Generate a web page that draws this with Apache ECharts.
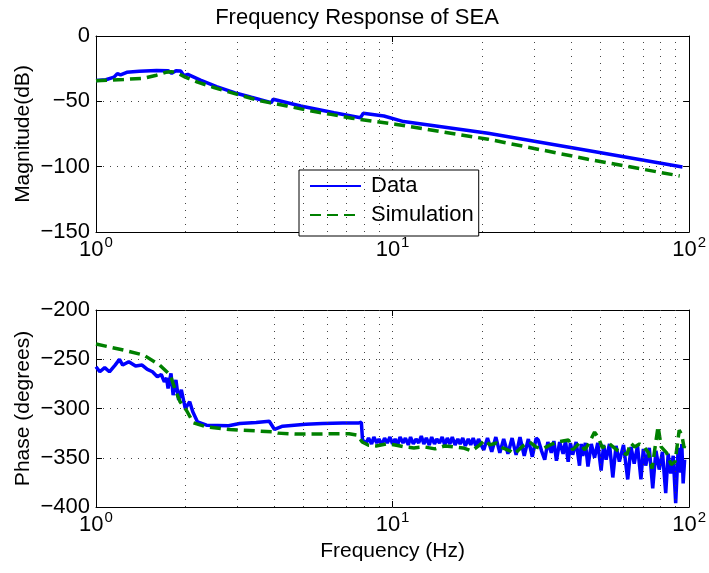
<!DOCTYPE html>
<html>
<head>
<meta charset="utf-8">
<script src="https://cdn.jsdelivr.net/npm/echarts@6/dist/echarts.min.js"></script>
<style>
html, body { margin: 0; padding: 0; background: #fff; }
#chart { width: 709px; height: 573px; }
</style>
</head>
<body>
<div id="chart"></div>
<script>
// Magnitude (dB) of the measured response
const magDataFreq = [1.0, 1.08, 1.15, 1.18, 1.21, 1.27, 1.4, 1.6, 1.75, 1.8, 1.86, 1.93, 1.98, 2.04, 2.25, 2.55, 2.93, 3.34, 3.9, 3.96, 4.9, 6.35, 7.8, 7.96, 9.35, 10.9, 21, 45.6, 95];
const magData = [-34.0, -33.5, -31.5, -28.8, -29.8, -27.8, -27.0, -26.4, -26.5, -28.6, -26.6, -26.8, -30.4, -29.3, -33.7, -38.8, -43.4, -46.9, -51.0, -48.4, -53.6, -58.7, -62.5, -59.2, -61.2, -65.5, -74.5, -87.7, -100.3];

// Magnitude (dB) of the model
const magSimFreq = [1.0, 1.24, 1.45, 1.6, 1.72, 1.8, 1.9, 2.0, 2.2, 2.5, 2.8, 3.13, 3.5, 3.84, 4.4, 5.2, 6.2, 7.3, 8.6, 10.2, 21, 45.6, 93];
const magSim = [-34.3, -33.3, -32.3, -30.0, -27.8, -27.3, -28.8, -31.5, -35.3, -39.4, -42.8, -45.9, -49.0, -51.0, -53.5, -57.0, -60.0, -62.9, -65.2, -67.5, -79.0, -94.3, -107.1];

// Phase (degrees) of the measured response
const phaseDataFreq = [
  1.0, 1.03, 1.07, 1.11, 1.16, 1.2, 1.23, 1.29, 1.36, 1.43, 1.49, 1.55, 1.61, 1.66, 1.7, 1.73, 1.75, 1.79, 1.82, 1.86, 1.9, 1.94, 2.0, 2.07, 2.12, 2.2, 2.36, 2.8, 3.05, 3.47, 3.84, 3.9, 4.0, 4.26, 5.1, 5.8, 6.8, 7.7, 7.85, 7.92,
  8.0, 8.15, 8.3, 8.5, 8.65, 8.85, 9.0, 9.2, 9.4, 9.6, 9.8, 10.0, 10.2, 10.4, 10.6, 10.85, 11.05, 11.3, 11.5, 11.75, 12.0, 12.25, 12.5, 12.75, 13.0, 13.3, 13.55, 13.85, 14.1, 14.4, 14.7, 15.0, 15.3, 15.6, 15.9, 16.25, 16.6, 16.9, 17.25, 17.6, 18.0, 18.35, 18.7, 19.1, 19.5, 19.9,
  20.3, 20.9, 21.6, 22.3, 23.0, 23.7, 24.5, 25.3, 26.1, 26.9, 27.8, 28.7, 29.6, 30.5, 31.0,
  31.8, 32.6, 33.4, 34.3, 35.0, 35.7, 36.6, 37.6, 38.3, 39.1, 39.8, 40.5, 41.6, 42.7, 43.3, 43.8, 44.7, 45.6, 46.8, 48.0, 49.2, 50.5, 51.5, 52.5, 53.9, 55.3, 56.7, 58.2, 60.1, 62.1, 63.7, 65.3, 67.0, 68.8, 70.1, 71.4, 73.4, 75.4, 77.3, 79.3, 81.3, 83.4, 85.0, 86.7, 88.4, 90.1, 91.9, 93.7, 94.5, 95.5, 96.6
];
const phaseData = [
  -257.6, -262.7, -258.5, -262.7, -255.9, -250.2, -255.9, -252.5, -256.8, -255.9, -260.3, -262.7, -267.8, -265.5, -272.9, -269.0, -279.6, -264.4, -286.4, -271.0, -291.5, -281.0, -300.0, -293.2, -303.4, -313.6, -316.9, -317.5, -315.2, -314.3, -312.9, -313.5, -321.3, -317.9, -315.9, -315.2, -314.6, -314.6, -314.0, -332.2,
  -331, -335, -330, -336, -329, -335, -331, -337, -330, -335, -329, -336, -331, -337, -329, -335, -330, -337, -329, -336, -331, -335, -328, -336, -330, -337, -329, -336, -331, -335, -329, -337, -330, -336, -329, -337, -331, -336, -330, -338, -331, -337, -330, -338, -331, -337,
  -342, -330, -344, -329, -345, -331, -346, -330, -347, -329, -348, -331, -349, -330, -332,
  -343, -352, -334, -345, -333, -353, -334, -346, -333, -354, -335, -347, -334, -358, -336, -348, -335, -359, -336, -350, -335, -363, -337, -352, -336, -370, -338, -354, -337, -372, -339, -356, -338, -372, -341, -358, -340, -381, -343, -362, -344, -386, -346, -366, -348, -396, -340, -365, -336, -376, -352
];

// Phase (degrees) of the model
const phaseSimFreq = [
  1.0, 1.24, 1.45, 1.64, 1.78, 1.85, 1.92, 2.02, 2.13, 2.36, 2.82, 3.47, 3.94, 4.1, 4.72, 5.8, 7.14, 7.6, 7.9, 8.3,
  8.8, 9.5, 10.2, 11.0, 11.8, 12.8, 13.9, 15.0, 16.1, 17.3, 18.5, 19.5, 20.5, 21.3, 22.4, 23.5, 24.9, 25.8, 27.5, 29.0, 30.4, 32.0, 34.0, 36.0, 39.2, 40.5, 42.7, 44.5, 46.0, 48.0, 49.5, 51.0, 53.5, 57.0, 61.7, 63.5, 65.5, 68.0, 70.5, 73.0, 75.0, 78.6, 80.5, 84.0, 87.0, 89.7, 92.6, 94.5, 96.2, 97.5
];
const phaseSim = [
  -234.6, -240.7, -245.8, -255.9, -266.0, -281.0, -293.0, -302.0, -314.6, -318.7, -321.3, -322.7, -323.7, -325.0, -326.0, -325.8, -325.6, -327.0, -334.0, -337.3,
  -338, -336, -337, -339, -340, -339, -341, -338, -339, -340, -343, -338, -332, -337, -335, -340, -343, -346, -338, -334, -339, -341, -337, -334, -332, -342, -335, -342, -335, -324, -330, -340, -335, -342, -347, -335, -339, -336, -339, -345, -361, -318, -339, -345, -357, -354, -322, -327, -340, -333
];

// Log-scale minor grid (2..9 in each decade)
const minorGridFreqs = [2, 3, 4, 5, 6, 7, 8, 9, 20, 30, 40, 50, 60, 70, 80, 90];

const FONT = 'Liberation Sans, Arial, Helvetica, sans-serif';
const pairs = (xs, ys) => xs.map((x, i) => [x, ys[i]]);
const minus = v => String(v).replace('-', '\u2212');

const gridL = 96, gridW = 596;
const grids = [
  { left: gridL, top: 36, width: gridW, height: 196 },
  { left: gridL, top: 310, width: gridW, height: 197 }
];

const dotted = { color: '#444', width: 1, type: [1, 6] };
const axisLine = { show: true, onZero: false, lineStyle: { color: '#000', width: 1 } };
const tick = { show: true, inside: true, length: 6, lineStyle: { color: '#000' } };

function xAxes(gridIndex, withName) {
  return [
    {
      type: 'log', logBase: 10, min: 1, max: 100, gridIndex,
      axisLine, axisTick: tick,
      splitLine: { show: true, lineStyle: dotted },
      axisLabel: {
        margin: 3, fontFamily: FONT, color: '#000',
        formatter: v => '{b|10}{s|' + Math.round(Math.log10(v)) + '}',
        rich: {
          b: { fontSize: 22, fontFamily: FONT, color: '#000', lineHeight: 26, verticalAlign: 'bottom' },
          s: { fontSize: 15, fontFamily: FONT, color: '#000', lineHeight: 26, verticalAlign: 'bottom', padding: [0, 0, 11, 1] }
        }
      },
      name: withName ? 'Frequency (Hz)' : '',
      nameLocation: 'middle', nameGap: 34, nameMoveOverlap: false,
      nameTextStyle: { fontSize: 21, fontFamily: FONT, color: '#000' }
    },
    {
      type: 'log', logBase: 10, min: 1, max: 100, gridIndex, position: 'top',
      axisLine, axisTick: tick,
      axisLabel: { show: false }, splitLine: { show: false }
    }
  ];
}

function yAxes(gridIndex, min, max, name) {
  return [
    {
      type: 'value', min, max, interval: 50, gridIndex,
      axisLine, axisTick: tick,
      splitLine: { show: true, lineStyle: dotted },
      axisLabel: { margin: 6, fontSize: 22, fontFamily: FONT, color: '#000', formatter: minus },
      name, nameLocation: 'middle', nameGap: 62, nameRotate: 90, nameMoveOverlap: false,
      nameTextStyle: { fontSize: 21, fontFamily: FONT, color: '#000' }
    },
    {
      type: 'value', min, max, interval: 50, gridIndex, position: 'right',
      axisLine, axisTick: tick,
      axisLabel: { show: false }, splitLine: { show: false }
    }
  ];
}

const dataLine = { color: '#0000ff', width: 3.5 };
const simLine = { color: '#008000', width: 3.5, type: [11, 6] };

const minorGrid = {
  silent: true, symbol: 'none', animation: false,
  label: { show: false }, lineStyle: dotted,
  data: minorGridFreqs.map(f => ({ xAxis: f }))
};

const option = {
  animation: false,
  backgroundColor: '#fff',
  title: {
    text: 'Frequency Response of SEA',
    left: 352, top: 2, textAlign: 'center',
    textStyle: { fontSize: 22, fontWeight: 'normal', fontFamily: FONT, color: '#000' }
  },
  legend: {
    data: ['Data', 'Simulation'],
    orient: 'vertical', left: 299, top: 170,
    itemWidth: 51, itemHeight: 24, itemGap: 5,
    padding: [4, 5, 9, 10],
    itemStyle: { opacity: 0 },
    backgroundColor: '#fff', borderColor: '#000', borderWidth: 1,
    textStyle: { fontSize: 22, fontFamily: FONT, color: '#000', lineHeight: 24, padding: [0, 0, 0, 5] }
  },
  grid: grids,
  xAxis: [...xAxes(0, false), ...xAxes(1, true)],
  yAxis: [...yAxes(0, -150, 0, 'Magnitude(dB)'), ...yAxes(1, -400, -200, 'Phase (degrees)')],
  series: [
    {
      name: 'Simulation', type: 'line', xAxisIndex: 0, yAxisIndex: 0,
      data: pairs(magSimFreq, magSim), symbol: 'none', lineStyle: simLine, itemStyle: { color: '#008000' },
      markLine: minorGrid, z: 3
    },
    {
      name: 'Data', type: 'line', xAxisIndex: 0, yAxisIndex: 0,
      data: pairs(magDataFreq, magData), symbol: 'none', lineStyle: dataLine, itemStyle: { color: '#0000ff' }, z: 2
    },
    {
      name: 'Data', type: 'line', xAxisIndex: 2, yAxisIndex: 2,
      data: pairs(phaseDataFreq, phaseData), symbol: 'none', lineStyle: dataLine, itemStyle: { color: '#0000ff' },
      markLine: minorGrid, z: 2
    },
    {
      name: 'Simulation', type: 'line', xAxisIndex: 2, yAxisIndex: 2,
      data: pairs(phaseSimFreq, phaseSim), symbol: 'none', lineStyle: simLine, itemStyle: { color: '#008000' }, z: 3
    }
  ]
};

const chart = echarts.init(document.getElementById('chart'), null, { renderer: 'canvas' });
chart.setOption(option);
</script>
</body>
</html>
